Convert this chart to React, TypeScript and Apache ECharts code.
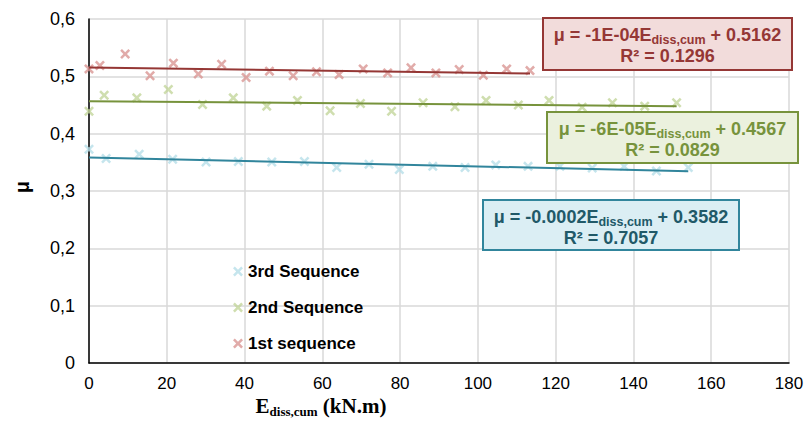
import React, { useEffect, useRef } from "react";
import * as echarts from "echarts";

// 1st sequence
const seq1E = [0, 2.8, 9.3, 15.7, 21.7, 28.1, 34.1, 40.4, 46.4, 52.5, 58.5, 64.3, 70.5, 76.8, 82.8, 89.2, 95.2, 101.4, 107.4, 113.4];
const seq1Mu = [0.513, 0.519, 0.539, 0.501, 0.523, 0.504, 0.521, 0.498, 0.509, 0.501, 0.508, 0.503, 0.513, 0.506, 0.515, 0.506, 0.512, 0.502, 0.513, 0.51];
// 2nd sequence
const seq2E = [0, 3.9, 12.3, 20.4, 29.2, 37.1, 45.7, 53.6, 62.0, 69.8, 77.8, 85.9, 94.1, 102.1, 110.4, 118.3, 126.8, 134.6, 142.9, 151.1];
const seq2Mu = [0.439, 0.467, 0.4625, 0.477, 0.451, 0.4625, 0.448, 0.458, 0.44, 0.4526, 0.439, 0.454, 0.447, 0.458, 0.45, 0.458, 0.446, 0.454, 0.448, 0.454];
// 3rd sequence
const seq3E = [0, 4.4, 12.9, 21.5, 30.1, 38.4, 47.0, 55.4, 63.7, 72.0, 79.8, 88.4, 96.7, 104.6, 112.9, 121.1, 129.4, 137.6, 145.9, 154.1];
const seq3Mu = [0.3727, 0.3566, 0.364, 0.3554, 0.3507, 0.3514, 0.3507, 0.3514, 0.341, 0.3467, 0.3375, 0.343, 0.341, 0.3455, 0.343, 0.343, 0.34, 0.343, 0.335, 0.341];

// linear trend lines (end points)
const trend1E = [0, 113.4];
const trend1Mu = [0.5155, 0.505];
const trend2E = [0, 151.1];
const trend2Mu = [0.4567, 0.4478];
const trend3E = [0, 154.1];
const trend3Mu = [0.3585, 0.3345];

const seriesNames = ["3rd Sequence", "2nd Sequence", "1st sequence"];
const xTicks = { min: 0, max: 180, interval: 20 };
const yTicks = { min: 0, max: 0.6, interval: 0.1 };

const eq1 = ["μ = -1E-04E", "diss,cum", " + 0.5162", "R² = 0.1296"];
const eq2 = ["μ = -6E-05E", "diss,cum", " + 0.4567", "R² = 0.0829"];
const eq3 = ["μ = -0.0002E", "diss,cum", " + 0.3582", "R² = 0.7057"];

const XSHAPE =
  "path://M0,1.8L1.8,0L5,3.2L8.2,0L10,1.8L6.8,5L10,8.2L8.2,10L5,6.8L1.8,10L0,8.2L3.2,5Z";

const zip = (a: number[], b: number[]) => a.map((v, i) => [v, b[i]]);

function eqBox(
  x: number,
  y: number,
  w: number,
  h: number,
  fill: string,
  stroke: string,
  textColor: string,
  eq: string[]
) {
  const cx = x + w / 2;
  return {
    type: "group",
    z: 100,
    children: [
      {
        type: "rect",
        z: 100,
        shape: { x, y, width: w, height: h },
        style: { fill, stroke, lineWidth: 2 },
      },
      {
        type: "text",
        z: 101,
        x: cx,
        y: y + 17,
        style: {
          text: `{a|${eq[0]}}{s|${eq[1]}}{a|${eq[2]}}`,
          align: "center",
          verticalAlign: "middle",
          fill: textColor,
          rich: {
            a: { fontSize: 18, fontWeight: "bold", fontFamily: "Liberation Sans, Arial", fill: textColor },
            s: { fontSize: 12.5, fontWeight: "bold", fontFamily: "Liberation Sans, Arial", fill: textColor, padding: [9, 0, 0, 0] },
          },
        },
      },
      {
        type: "text",
        z: 101,
        x: cx,
        y: y + 38,
        style: {
          text: eq[3],
          align: "center",
          verticalAlign: "middle",
          fill: textColor,
          font: "bold 18px 'Liberation Sans', Arial",
        },
      },
    ],
  };
}

export default function App() {
  const ref = useRef<HTMLDivElement>(null);
  useEffect(() => {
    if (!ref.current) return;
    const chart = echarts.init(ref.current, undefined, { renderer: "svg" });
    const option: any = {
      animation: false,
      backgroundColor: "#ffffff",
      grid: { left: 89, right: 22, top: 19, bottom: 58, containLabel: false },
      xAxis: {
        type: "value",
        min: xTicks.min,
        max: xTicks.max,
        interval: xTicks.interval,
        axisLine: { show: true, onZero: false, lineStyle: { color: "#000", width: 1.5 } },
        axisTick: { show: false },
        splitLine: { show: true, lineStyle: { color: "#d9d9d9", width: 1.5 } },
        axisLabel: { fontSize: 17, color: "#000", fontFamily: "Liberation Sans, Arial", margin: 12 },
      },
      yAxis: {
        type: "value",
        min: yTicks.min,
        max: yTicks.max,
        interval: yTicks.interval,
        axisLine: { show: true, onZero: false, lineStyle: { color: "#000", width: 1.5 } },
        axisTick: { show: false },
        splitLine: { show: true, lineStyle: { color: "#d9d9d9", width: 1.5 } },
        axisLabel: {
          fontSize: 18,
          color: "#000",
          fontFamily: "Liberation Sans, Arial",
          margin: 14,
          formatter: (v: number) => (v === 0 ? "0" : v.toFixed(1).replace(".", ",")),
        },
      },
      legend: {
        data: seriesNames,
        orient: "vertical",
        left: 228,
        top: 258,
        itemWidth: 10,
        itemHeight: 10,
        itemGap: 19,
        textStyle: { fontSize: 17, fontWeight: "bold", color: "#000", fontFamily: "Liberation Sans, Arial" },
      },
      graphic: [
        eqBox(543, 18, 249, 52, "#f2dcdb", "#953735", "#953735", eq1),
        eqBox(547, 112, 251, 51, "#ebf1de", "#77933c", "#77933c", eq2),
        eqBox(483, 200, 256, 50, "#dbeef4", "#31859c", "#215968", eq3),
        {
          type: "text",
          x: 22,
          y: 187,
          rotation: Math.PI / 2,
          style: {
            text: "μ",
            align: "center",
            verticalAlign: "middle",
            fill: "#000",
            font: "bold 20px 'Liberation Sans', Arial",
          },
        },
        {
          type: "text",
          x: 321,
          y: 406,
          style: {
            text: "{e|E}{s|diss,cum}{e| (kN.m)}",
            align: "center",
            verticalAlign: "middle",
            fill: "#000",
            rich: {
              e: { fontSize: 21, fontWeight: "bold", fontFamily: "Liberation Serif, Times New Roman", fill: "#000" },
              s: { fontSize: 13, fontWeight: "bold", fontFamily: "Liberation Serif, Times New Roman", fill: "#000", padding: [10, 0, 0, 0] },
            },
          },
        },
      ],
      series: [
        {
          name: "3rd Sequence",
          type: "scatter",
          data: zip(seq3E, seq3Mu),
          symbol: XSHAPE,
          symbolSize: 10,
          itemStyle: { color: "#b7dee8" },
          z: 2,
        },
        {
          name: "2nd Sequence",
          type: "scatter",
          data: zip(seq2E, seq2Mu),
          symbol: XSHAPE,
          symbolSize: 10,
          itemStyle: { color: "#c3d69b" },
          z: 2,
        },
        {
          name: "1st sequence",
          type: "scatter",
          data: zip(seq1E, seq1Mu),
          symbol: XSHAPE,
          symbolSize: 10,
          itemStyle: { color: "#d99694" },
          z: 2,
        },
        {
          name: "trend3",
          type: "line",
          data: zip(trend3E, trend3Mu),
          showSymbol: false,
          symbol: "none",
          lineStyle: { color: "#31859c", width: 2 },
          z: 3,
        },
        {
          name: "trend2",
          type: "line",
          data: zip(trend2E, trend2Mu),
          showSymbol: false,
          symbol: "none",
          lineStyle: { color: "#77933c", width: 2 },
          z: 3,
        },
        {
          name: "trend1",
          type: "line",
          data: zip(trend1E, trend1Mu),
          showSymbol: false,
          symbol: "none",
          lineStyle: { color: "#953735", width: 2 },
          z: 3,
        },
      ],
    };
    chart.setOption(option);
    return () => chart.dispose();
  }, []);
  return (
    <div
      ref={ref}
      style={{ position: "fixed", left: 0, top: 0, width: 811, height: 421 }}
    />
  );
}
